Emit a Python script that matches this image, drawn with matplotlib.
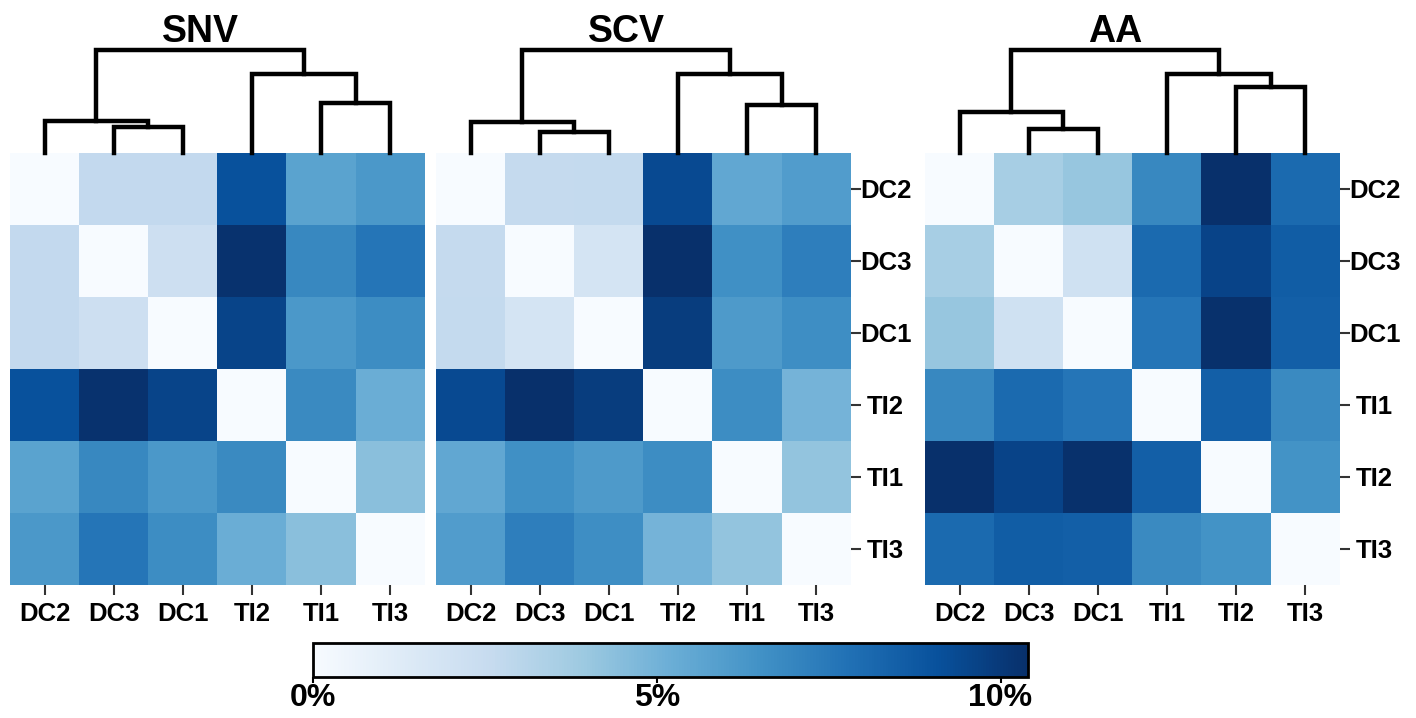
import numpy as np
import matplotlib
matplotlib.use('Agg')
import matplotlib.pyplot as plt
from matplotlib.transforms import blended_transform_factory

W, H = 1416, 718

titles = ['SNV', 'SCV', 'AA']
labels_snv = ['DC2', 'DC3', 'DC1', 'TI2', 'TI1', 'TI3']
labels_scv = ['DC2', 'DC3', 'DC1', 'TI2', 'TI1', 'TI3']
labels_aa = ['DC2', 'DC3', 'DC1', 'TI1', 'TI2', 'TI3']

# distances in %, rows/cols in the displayed (clustered) order
snv = [[0.0, 2.7, 2.7, 9.1, 5.7, 6.2],
       [2.7, 0.0, 2.2, 10.3, 6.9, 7.6],
       [2.7, 2.2, 0.0, 9.55, 6.2, 6.7],
       [9.1, 10.3, 9.55, 0.0, 6.8, 5.2],
       [5.7, 6.9, 6.2, 6.8, 0.0, 4.4],
       [6.2, 7.6, 6.7, 5.2, 4.4, 0.0]]
scv = [[0.0, 2.6, 2.65, 9.35, 5.5, 6.0],
       [2.6, 0.0, 1.85, 10.4, 6.55, 7.25],
       [2.65, 1.85, 0.0, 9.85, 6.1, 6.65],
       [9.35, 10.4, 9.85, 0.0, 6.7, 4.95],
       [5.5, 6.55, 6.1, 6.7, 0.0, 4.15],
       [6.0, 7.25, 6.65, 4.95, 4.15, 0.0]]
aa = [[0.0, 3.6, 4.1, 6.9, 10.4, 8.05],
      [3.6, 0.0, 2.1, 8.05, 9.6, 8.6],
      [4.1, 2.1, 0.0, 7.6, 10.35, 8.5],
      [6.9, 8.05, 7.6, 0.0, 8.5, 6.8],
      [10.4, 9.6, 10.35, 8.5, 0.0, 6.45],
      [8.05, 8.6, 8.5, 6.8, 6.45, 0.0]]

# dendrogram merges (child a, child b, height); leaves 0-5 in display order
links_snv = [(1, 2, 26), (0, 6, 32), (4, 5, 50), (3, 8, 79), (7, 9, 103)]
links_scv = [(1, 2, 21), (0, 6, 31), (4, 5, 48), (3, 8, 79), (7, 9, 103)]
links_aa = [(1, 2, 24), (0, 6, 41), (4, 5, 66), (3, 8, 79), (7, 9, 103)]

panels = [(snv, labels_snv, links_snv, False),
          (scv, labels_scv, links_scv, True),
          (aa, labels_aa, links_aa, True)]

VMAX = 10.4
bold_font = ['Liberation Sans', 'DejaVu Sans']

fig = plt.figure(figsize=(W / 100, H / 100), dpi=100)


def px_axes(x0, y0, x1, y1):
    return fig.add_axes([x0 / W, 1 - y1 / H, (x1 - x0) / W, (y1 - y0) / H])


def draw_dendro(ax, links, n=6):
    pos = {i: (i + 0.5, 0.0) for i in range(n)}
    for k, (a, b, h) in enumerate(links):
        xa, ha = pos[a]
        xb, hb = pos[b]
        ax.plot([xa, xa, xb, xb], [ha, h, h, hb], color='black', lw=3.2,
                solid_joinstyle='miter', solid_capstyle='projecting', clip_on=False)
        pos[n + k] = ((xa + xb) / 2, h)
    return pos[n + len(links) - 1]


hm_left = [10, 436, 925]
hm_w = 415
top, bottom = 153, 585

im = None
for (mat, labels, links, show_y), x0, title in zip(panels, hm_left, titles):
    ax = px_axes(x0, top, x0 + hm_w, bottom)
    im = ax.imshow(np.array(mat), cmap='Blues', vmin=0, vmax=VMAX, aspect='auto',
                   interpolation='nearest')
    for s in ax.spines.values():
        s.set_visible(False)
    ax.set_xticks(range(6))
    ax.set_xticklabels(labels, fontfamily=bold_font, fontweight='bold', fontsize=18.5)
    ax.tick_params(axis='x', length=7, width=1.5, color='#333333', pad=5)
    if show_y:
        ax.yaxis.tick_right()
        ax.set_yticks(range(6))
        ax.set_yticklabels(labels, fontfamily=bold_font, fontweight='bold', fontsize=18.5,
                           ha='center')
        ax.tick_params(axis='y', length=7, width=1.5, color='#333333', pad=18)
    else:
        ax.set_yticks([])

    dax = px_axes(x0, 43, x0 + hm_w, top)
    dax.set_xlim(0, 6)
    dax.set_ylim(0, 110)
    dax.axis('off')
    tx, th = draw_dendro(dax, links)
    tr = blended_transform_factory(dax.transData, fig.transFigure)
    dax.text(tx, 1 - 42 / H, title, transform=tr, ha='center', va='baseline',
             fontsize=27, fontweight='bold', fontfamily=bold_font)

cax = px_axes(313, 643, 1028, 677)
cb = fig.colorbar(im, cax=cax, orientation='horizontal', ticks=[0, 5, 10])
cb.ax.set_xticklabels(['0%', '5%', '10%'], fontfamily=bold_font, fontweight='bold', fontsize=23)
cb.ax.tick_params(length=4, width=1.5, pad=0)
cb.outline.set_linewidth(2)

fig.savefig('out.png', dpi=100)
